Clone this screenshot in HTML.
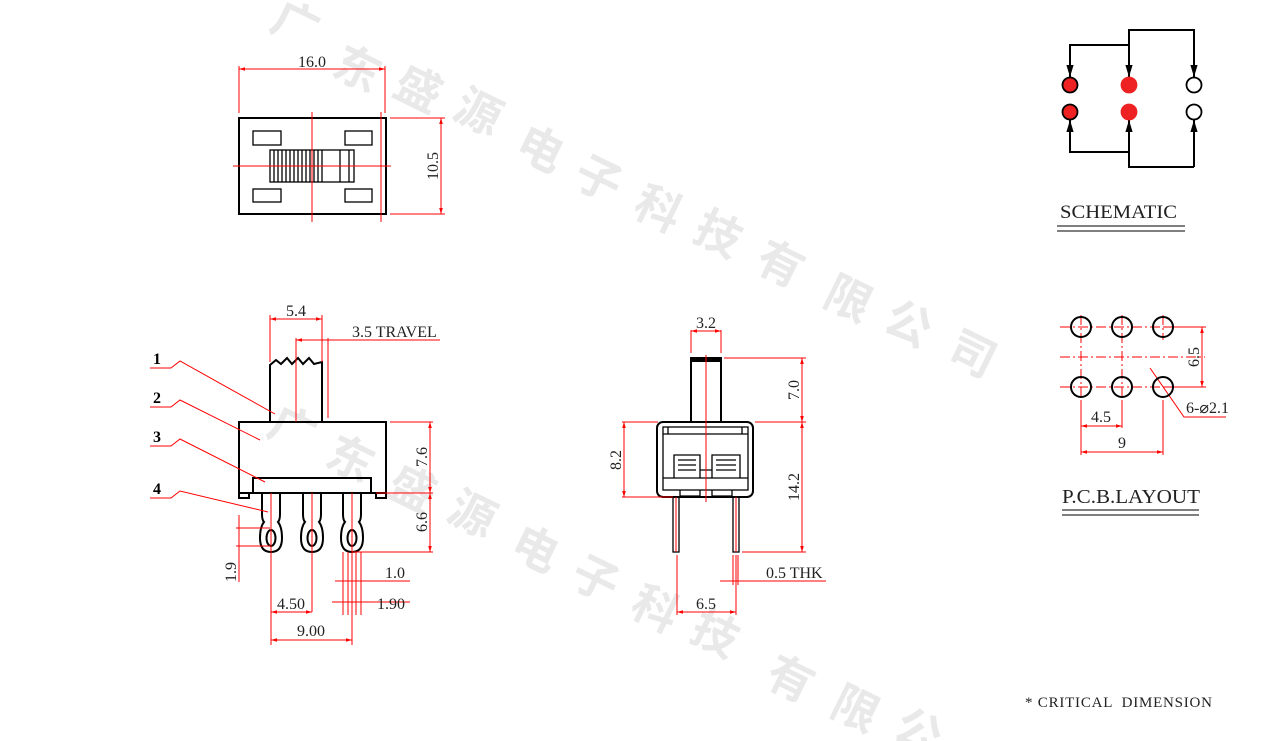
<!DOCTYPE html>
<html><head><meta charset="utf-8"><style>
html,body{margin:0;padding:0;background:#fff;}
svg{display:block;}
.k{stroke:#000;stroke-width:2;fill:none;}
.k1{stroke:#000;stroke-width:1.3;fill:none;}
.r{stroke:#f00;stroke-width:1;fill:none;}
.t{font-family:"Liberation Serif",serif;font-size:16px;fill:#222;}
.w{font-family:"Noto Sans CJK SC",sans-serif;font-weight:bold;font-size:46px;fill:#e9e9e9;}
</style></head><body>
<svg width="1264" height="741" viewBox="0 0 1264 741" xmlns="http://www.w3.org/2000/svg">
<defs>
<marker id="a" viewBox="0 0 10 10" refX="10" refY="5" markerWidth="6" markerHeight="6" orient="auto-start-reverse"><path d="M0,2 L10,5 L0,8z" fill="#f00"/></marker>
<marker id="b" viewBox="0 0 10 10" refX="10" refY="5" markerWidth="6" markerHeight="6" orient="auto"><path d="M0,2 L10,5 L0,8z" fill="#000"/></marker>
</defs>
<g class="w" text-anchor="middle">
<text x="295" y="40" transform="rotate(26 295 25)">广</text>
<text x="357" y="85" transform="rotate(26 357 70)">东</text>
<text x="418" y="105" transform="rotate(26 418 90)">盛</text>
<text x="478" y="128" transform="rotate(26 478 113)">源</text>
<text x="540" y="165" transform="rotate(26 540 150)">电</text>
<text x="598" y="195" transform="rotate(26 598 180)">子</text>
<text x="658" y="225" transform="rotate(26 658 210)">科</text>
<text x="718" y="250" transform="rotate(26 718 235)">技</text>
<text x="780" y="280" transform="rotate(26 780 265)">有</text>
<text x="848" y="315" transform="rotate(26 848 300)">限</text>
<text x="908" y="340" transform="rotate(26 908 325)">公</text>
<text x="972" y="370" transform="rotate(26 972 355)">司</text>
<text x="292" y="445" transform="rotate(26 292 430)">广</text>
<text x="350" y="475" transform="rotate(26 350 460)">东</text>
<text x="412" y="505" transform="rotate(26 412 490)">盛</text>
<text x="472" y="530" transform="rotate(26 472 515)">源</text>
<text x="535" y="565" transform="rotate(26 535 550)">电</text>
<text x="595" y="595" transform="rotate(26 595 580)">子</text>
<text x="655" y="625" transform="rotate(26 655 610)">科</text>
<text x="715" y="650" transform="rotate(26 715 635)">技</text>
<text x="790" y="695" transform="rotate(26 790 680)">有</text>
<text x="855" y="725" transform="rotate(26 855 710)">限</text>
<text x="918" y="748" transform="rotate(26 918 733)">公</text>
</g>

<!-- TOP VIEW -->
<rect class="k" x="239" y="118" width="147" height="96"/>
<rect class="k1" x="253" y="131" width="28" height="14"/>
<rect class="k1" x="345" y="131" width="27" height="14"/>
<rect class="k1" x="253" y="189" width="28" height="13"/>
<rect class="k1" x="345" y="189" width="27" height="13"/>
<rect class="k1" x="270" y="150" width="84" height="32"/>
<path class="k1" d="M274,150V182M278,150V182M282,150V182M286,150V182M290,150V182M294,150V182M298,150V182M302,150V182M306,150V182M310,150V182M314,150V182M318,150V182M322,150V182M340,150V182M349,150V182"/>
<path class="r" d="M312,112V222M233,166H391M381,112V222M239,66V113M385,66V113M390,118H445M390,214H445"/>
<line class="r" x1="239" y1="69" x2="385" y2="69" marker-start="url(#a)" marker-end="url(#a)"/>
<line class="r" x1="441" y1="118" x2="441" y2="214" marker-start="url(#a)" marker-end="url(#a)"/>
<text class="t" x="312" y="67" text-anchor="middle">16.0</text>
<text class="t" transform="translate(438 166) rotate(-90)" text-anchor="middle">10.5</text>

<!-- SIDE VIEW -->
<path class="k" d="M270,422V365L276,360L281,364L287,358L292,364L298,358L303,364L309,358L314,364L322,362V422"/>
<rect class="k" x="239" y="422" width="147" height="71"/>
<rect class="k" x="253" y="478" width="118" height="15"/>
<path class="k" d="M239,493V498H249V493M376,493V498H386V493"/>
<g class="k">
<path d="M262,493V514Q262,520 264,522Q260,527 260,538Q260,552 271,552Q282,552 282,538Q282,527 278,522Q280,520 280,514V493"/>
<ellipse cx="271" cy="538" rx="4.5" ry="8"/>
<path d="M303,493V514Q303,520 305,522Q301,527 301,538Q301,552 312,552Q323,552 323,538Q323,527 319,522Q321,520 321,514V493"/>
<ellipse cx="312" cy="538" rx="4.5" ry="8"/>
<path d="M343,493V514Q343,520 345,522Q341,527 341,538Q341,552 352,552Q363,552 363,538Q363,527 359,522Q361,520 361,514V493"/>
<ellipse cx="352" cy="538" rx="4.5" ry="8"/>
</g>
<path class="r" d="M270,315V362M322,315V362M296,338V422M328,338V418M390,422H433M376,493H433M352,552H433M236,528H270M236,546H270M271,493V645M312,493V612M352,493V645M343,552V615M348,552V615M356,552V615M361,552V615"/>
<line class="r" x1="270" y1="319" x2="322" y2="319" marker-start="url(#a)" marker-end="url(#a)"/>
<line class="r" x1="440" y1="340" x2="296" y2="340" marker-end="url(#a)"/>
<line class="r" x1="430" y1="422" x2="430" y2="493" marker-start="url(#a)" marker-end="url(#a)"/>
<line class="r" x1="430" y1="493" x2="430" y2="552" marker-start="url(#a)" marker-end="url(#a)"/>
<line class="r" x1="239" y1="515" x2="239" y2="582"/>
<line class="r" x1="335" y1="581" x2="410" y2="581"/>
<line class="r" x1="332" y1="602" x2="410" y2="602"/>
<line class="r" x1="271" y1="612" x2="312" y2="612" marker-start="url(#a)" marker-end="url(#a)"/>
<line class="r" x1="271" y1="640" x2="352" y2="640" marker-start="url(#a)" marker-end="url(#a)"/>
<text class="t" x="296" y="316" text-anchor="middle">5.4</text>
<text class="t" x="352" y="337">3.5 TRAVEL</text>
<text class="t" transform="translate(427 457) rotate(-90)" text-anchor="middle">7.6</text>
<text class="t" transform="translate(427 522) rotate(-90)" text-anchor="middle">6.6</text>
<text class="t" transform="translate(236 572) rotate(-90)" text-anchor="middle">1.9</text>
<text class="t" x="385" y="578">1.0</text>
<text class="t" x="377" y="609">1.90</text>
<text class="t" x="291" y="609" text-anchor="middle">4.50</text>
<text class="t" x="311" y="636" text-anchor="middle">9.00</text>
<g font-family="Liberation Serif,serif" font-weight="bold" font-size="16" fill="#000">
<text x="153" y="364">1</text><text x="153" y="403">2</text><text x="153" y="442">3</text><text x="153" y="494">4</text>
</g>
<path class="r" d="M150,368H171L180,361L275,414M150,407H171L180,400L260,440M150,446H171L180,439L265,482M150,498H171L180,491L268,512"/>

<!-- FRONT VIEW -->
<rect class="k" x="691" y="358" width="30" height="64"/>
<rect x="691" y="358" width="30" height="4" fill="#000"/>
<rect class="k" x="657" y="422" width="96" height="75" rx="6"/>
<rect class="k1" x="663" y="427" width="85" height="63"/>
<path class="k1" d="M663,434H748M668,427V434M742,427V434M663,478H748"/>
<path class="k1" d="M674,478V455H700V478M712,478V455H740V478M700,470H712"/>
<path class="k1" d="M678,460H696M678,465H696M678,470H696M716,460H736M716,465H736M716,470H736"/>
<path class="k1" d="M680,490V496H700V490M712,490V496H732V490"/>
<rect class="k1" x="673" y="497" width="6" height="55"/>
<rect class="k1" x="733" y="497" width="6" height="55"/>
<path class="r" d="M706,355V502M691,330V353M721,330V353M724,358H806M755,422H806M742,552H806M622,422H658M622,497H673M733,555V585M738,555V585M677,555V615M736,555V615M676,497V552M736,497V552"/>
<line class="r" x1="691" y1="331" x2="721" y2="331" marker-start="url(#a)" marker-end="url(#a)"/>
<line class="r" x1="802" y1="358" x2="802" y2="422" marker-start="url(#a)" marker-end="url(#a)"/>
<line class="r" x1="802" y1="422" x2="802" y2="552" marker-start="url(#a)" marker-end="url(#a)"/>
<line class="r" x1="624" y1="422" x2="624" y2="497" marker-start="url(#a)" marker-end="url(#a)"/>
<line class="r" x1="720" y1="581" x2="826" y2="581"/>
<line class="r" x1="677" y1="612" x2="736" y2="612" marker-start="url(#a)" marker-end="url(#a)"/>
<text class="t" x="706" y="328" text-anchor="middle">3.2</text>
<text class="t" transform="translate(799 390) rotate(-90)" text-anchor="middle">7.0</text>
<text class="t" transform="translate(799 487) rotate(-90)" text-anchor="middle">14.2</text>
<text class="t" transform="translate(621 460) rotate(-90)" text-anchor="middle">8.2</text>
<text class="t" x="766" y="578">0.5 THK</text>
<text class="t" x="706" y="609" text-anchor="middle">6.5</text>

<!-- SCHEMATIC -->
<g stroke="#000" stroke-width="2" fill="none">
<path d="M1129,77V30H1194V77" marker-end="url(#b)"/>
<path d="M1129,45V77" marker-end="url(#b)"/>
<path d="M1129,45H1070V77" marker-end="url(#b)"/>
<path d="M1129,152H1070V120" marker-end="url(#b)"/>
<path d="M1194,167H1129V120" marker-end="url(#b)"/>
<path d="M1194,167V120" marker-end="url(#b)"/>
</g>
<g stroke="#000" stroke-width="1.8">
<circle cx="1070" cy="85" r="7.5" fill="#ee2222"/>
<circle cx="1070" cy="112" r="7.5" fill="#ee2222"/>
<circle cx="1129" cy="85" r="7.5" fill="#ee2222" stroke="#ee2222"/>
<circle cx="1129" cy="112" r="7.5" fill="#ee2222" stroke="#ee2222"/>
<circle cx="1194" cy="85" r="7.5" fill="#fff"/>
<circle cx="1194" cy="112" r="7.5" fill="#fff"/>
</g>
<text class="t" x="1060" y="218" style="font-size:19px" textLength="117" lengthAdjust="spacingAndGlyphs">SCHEMATIC</text>
<path d="M1057,226H1185M1057,231H1185" stroke="#333" stroke-width="1.3"/>

<!-- PCB LAYOUT -->
<path class="r" stroke-dasharray="10,3,2,3" d="M1060,327H1205M1060,357H1205M1060,387H1205M1081,315V400M1122,315V400M1163,315V340"/>
<path class="r" d="M1081,400V455M1122,400V428M1163,400V455M1165,327H1206M1165,387H1206M1150,368L1184,417H1226"/>
<line class="r" x1="1202" y1="327" x2="1202" y2="387" marker-start="url(#a)" marker-end="url(#a)"/>
<line class="r" x1="1081" y1="426" x2="1122" y2="426" marker-start="url(#a)" marker-end="url(#a)"/>
<line class="r" x1="1081" y1="452" x2="1163" y2="452" marker-start="url(#a)" marker-end="url(#a)"/>
<g stroke="#000" stroke-width="2" fill="none">
<circle cx="1081" cy="327" r="10"/><circle cx="1122" cy="327" r="10"/><circle cx="1163" cy="327" r="10"/>
<circle cx="1081" cy="387" r="10"/><circle cx="1122" cy="387" r="10"/><circle cx="1163" cy="387" r="10"/>
</g>
<text class="t" transform="translate(1199 357) rotate(-90)" text-anchor="middle">6.5</text>
<text class="t" x="1186" y="413">6-⌀2.1</text>
<text class="t" x="1101" y="422" text-anchor="middle">4.5</text>
<text class="t" x="1122" y="448" text-anchor="middle">9</text>
<text class="t" x="1062" y="503" style="font-size:20px" textLength="138" lengthAdjust="spacingAndGlyphs">P.C.B.LAYOUT</text>
<path d="M1062,510H1199M1062,515H1199" stroke="#333" stroke-width="1.3"/>

<text class="t" x="1025" y="707" style="font-size:15px" textLength="187" lengthAdjust="spacing" xml:space="preserve">* CRITICAL  DIMENSION</text>
</svg>
</body></html>
